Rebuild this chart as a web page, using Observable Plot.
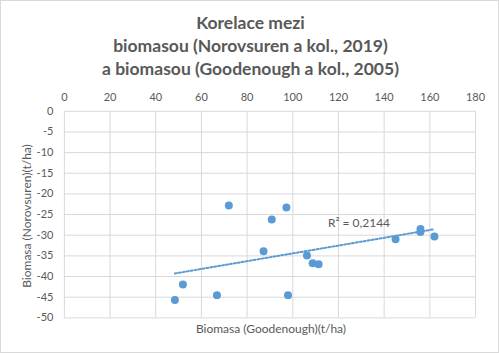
<!DOCTYPE html>
<html>
<head>
<meta charset="utf-8">
<script src="https://cdn.jsdelivr.net/npm/d3@7"></script>
<script src="https://cdn.jsdelivr.net/npm/@observablehq/plot@0.6"></script>
<style>
  html, body { margin: 0; padding: 0; background: #fff; }
  #chart { position: relative; width: 499px; height: 353px; box-sizing: border-box; border: 1px solid #d9d9d9; overflow: hidden; font-family: Lato, "Open Sans", sans-serif; color: #595959; }
  #title { position: absolute; left: 0; top: 10px; width: 499px; text-align: center; font-weight: bold; font-size: 17.5px; line-height: 23px; color: #595959; }
  #plot { position: absolute; left: -1px; top: -1px; }
  #xtitle { position: absolute; left: 64px; width: 412px; top: 320px; text-align: center; font-size: 12px; }
  #ytitle { position: absolute; left: 25px; top: 215px; transform: translate(-50%, -50%) rotate(-90deg); white-space: nowrap; font-size: 12px; }
</style>
</head>
<body>
<div id="chart">
  <div id="title">Korelace mezi<br>biomasou (Norovsuren a kol., 2019)<br>a biomasou (Goodenough a kol., 2005)</div>
  <div id="plot"></div>
  <div id="xtitle">Biomasa (Goodenough)(t/ha)</div>
  <div id="ytitle">Biomasa (Norovsuren)(t/ha)</div>
</div>
<script>
// Data
const goodenough = [72, 90.8, 97.2, 155.9, 155.9, 162, 145, 87.2, 106.2, 108.7, 111.3, 97.9, 48.4, 51.9, 66.8];
const norovsuren = [-22.8, -26.2, -23.3, -28.5, -29.2, -30.3, -31, -33.9, -34.9, -36.8, -37, -44.5, -45.7, -41.9, -44.5];
const xTicks = [0, 20, 40, 60, 80, 100, 120, 140, 160, 180];
const yTicks = [0, -5, -10, -15, -20, -25, -30, -35, -40, -45, -50];
const r2Text = ["R² = 0,2144"];
const r2Pos = [129, -27.1];

const data = goodenough.map((g, i) => ({x: g, y: norovsuren[i]}));
const blue = "#5b9bd5";
const grid = "#d9d9d9";

const chart = Plot.plot({
  width: 499,
  height: 353,
  marginTop: 111,
  marginBottom: 35,
  marginLeft: 64,
  marginRight: 23,
  style: {fontFamily: "Lato, 'Open Sans', sans-serif", fontSize: "11px", color: "#595959", background: "transparent"},
  x: {domain: [0, 180]},
  y: {domain: [-50, 0]},
  marks: [
    Plot.ruleX(xTicks, {stroke: grid, strokeWidth: 1}),
    Plot.ruleY(yTicks, {stroke: grid, strokeWidth: 1}),
    Plot.axisX({anchor: "top", ticks: xTicks, tickSize: 0, tickPadding: 10, label: null, fill: "#595959", fontSize: 11, tickFormat: d => String(d)}),
    Plot.axisY({anchor: "left", ticks: yTicks, tickSize: 0, tickPadding: 11, label: null, fill: "#595959", fontSize: 11, tickFormat: d => String(d)}),
    Plot.linearRegressionY(data, {x: "x", y: "y", ci: 0, stroke: blue, strokeWidth: 2, strokeDasharray: "2 2"}),
    Plot.dot(data, {x: "x", y: "y", r: 4, fill: blue, stroke: "none"}),
    Plot.text(r2Text, {x: () => r2Pos[0], y: () => r2Pos[1], text: d => d, fill: "#595959", fontSize: 12, textAnchor: "middle"})
  ]
});
document.getElementById("plot").appendChild(chart);
</script>
</body>
</html>
